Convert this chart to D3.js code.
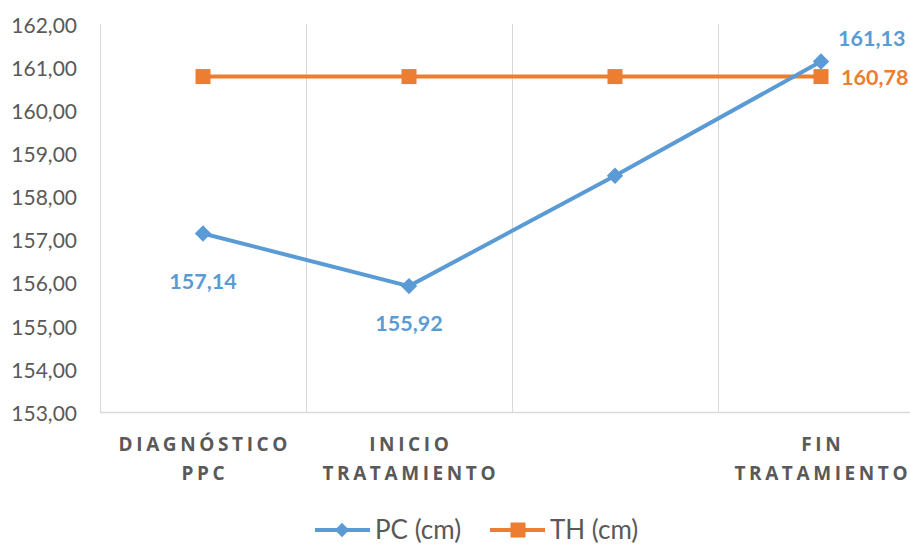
<!DOCTYPE html>
<html>
<head>
<meta charset="utf-8">
<script src="https://cdn.jsdelivr.net/npm/d3@7"></script>
<style>
  html, body { margin: 0; padding: 0; background: #fff; }
  svg { display: block; }
</style>
</head>
<body>
<svg id="chart" width="910" height="546"></svg>
<script>
// Category labels (each entry is a list of lines)
const categories = [
  ["DIAGNÓSTICO", "PPC"],
  ["INICIO", "TRATAMIENTO"],
  [""],
  ["FIN", "TRATAMIENTO"]
];
const categoryKeys = ["c0", "c1", "c2", "c3"];

// Series values
const pcValues = [157.14, 155.92, 158.48, 161.13];
const thValues = [160.78, 160.78, 160.78, 160.78];

// Which points carry a value label
const pcLabelled = [true, true, false, true];
const thLabelled = [false, false, false, true];

const yTicks = [153, 154, 155, 156, 157, 158, 159, 160, 161, 162];

const seriesNames = ["PC (cm)", "TH (cm)"];
const colors = { pc: "#5B9BD5", th: "#ED7D31" };

const fmt = v => d3.format(".2f")(v).replace(".", ",");

const svg = d3.select("#chart");

const x = d3.scaleBand().domain(categoryKeys).range([100, 924]);
const y = d3.scaleLinear().domain([153, 162]).range([412, 24]);
const cx = i => x(categoryKeys[i]) + x.bandwidth() / 2;

// Vertical gridlines at category boundaries
svg.append("g")
  .selectAll("line")
  .data(categoryKeys)
  .join("line")
  .attr("x1", d => x(d) + 0.5)
  .attr("x2", d => x(d) + 0.5)
  .attr("y1", y(162))
  .attr("y2", y(153))
  .attr("stroke", "#d9d9d9")
  .attr("stroke-width", 1);

// Horizontal axis line
svg.append("line")
  .attr("x1", 100).attr("x2", 924)
  .attr("y1", y(153) + 0.5).attr("y2", y(153) + 0.5)
  .attr("stroke", "#d9d9d9").attr("stroke-width", 1.3);

// Y axis tick labels
const yAxis = d3.axisLeft(y).tickValues(yTicks).tickFormat(fmt).tickSize(0).tickPadding(23);
const yg = svg.append("g").attr("transform", "translate(100,1.5)").call(yAxis);
yg.select(".domain").remove();
yg.selectAll("text")
  .attr("font-family", "Lato, 'Noto Sans', sans-serif")
  .attr("font-size", 21)
  .attr("fill", "#595959");

// Category labels
const catSpacing = 3.6;
const catG = svg.append("g");
categories.forEach((lines, i) => {
  const t = catG.append("text")
    .attr("x", cx(i))
    .attr("y", 451)
    .attr("text-anchor", "middle")
    .attr("font-family", "'Open Sans', sans-serif")
    .attr("font-weight", 700)
    .attr("font-size", 19)
    .attr("letter-spacing", catSpacing)
    .attr("fill", "#595959");
  lines.forEach((ln, k) => {
    t.append("tspan").attr("x", cx(i) + catSpacing / 2).attr("dy", k === 0 ? 0 : 29).text(ln);
  });
});

const line = d3.line().x((d, i) => cx(i)).y(d => y(d));

// TH series
svg.append("path")
  .datum(thValues)
  .attr("d", line)
  .attr("fill", "none")
  .attr("stroke", colors.th)
  .attr("stroke-width", 4);
svg.append("g").selectAll("rect")
  .data(thValues)
  .join("rect")
  .attr("x", (d, i) => cx(i) - 7.5)
  .attr("y", d => y(d) - 7.5)
  .attr("width", 15).attr("height", 15)
  .attr("fill", colors.th);

// PC series
svg.append("path")
  .datum(pcValues)
  .attr("d", line)
  .attr("fill", "none")
  .attr("stroke", colors.pc)
  .attr("stroke-width", 4);
const diamond = d3.symbol().type(d3.symbolDiamond2).size(170);
svg.append("g").selectAll("path")
  .data(pcValues)
  .join("path")
  .attr("transform", (d, i) => `translate(${cx(i)},${y(d)})`)
  .attr("d", diamond)
  .attr("fill", colors.pc);

// Value labels (placement relative to each point)
const labelFont = sel => sel
  .attr("font-family", "Lato, 'Noto Sans', sans-serif")
  .attr("font-weight", 700)
  .attr("font-size", 21.5);

const pcLabelPlace = [
  { dx: 0, dy: 55, anchor: "middle" },
  { dx: 0, dy: 45, anchor: "middle" },
  null,
  { dx: 17, dy: -16, anchor: "start" }
];
pcValues.forEach((v, i) => {
  if (!pcLabelled[i]) return;
  const p = pcLabelPlace[i];
  svg.append("text")
    .call(labelFont)
    .attr("fill", colors.pc)
    .attr("x", cx(i) + p.dx)
    .attr("y", y(v) + p.dy)
    .attr("text-anchor", p.anchor)
    .text(fmt(v));
});
thValues.forEach((v, i) => {
  if (!thLabelled[i]) return;
  svg.append("text")
    .call(labelFont)
    .attr("fill", colors.th)
    .attr("x", cx(i) + 20)
    .attr("y", y(v) + 8)
    .text(fmt(v));
});

// Legend
const legend = svg.append("g");
const legendItems = [
  { name: seriesNames[0], color: colors.pc, x: 315, marker: "diamond" },
  { name: seriesNames[1], color: colors.th, x: 490, marker: "square" }
];
const legendDiamond = d3.symbol().type(d3.symbolDiamond2).size(130);
legendItems.forEach(it => {
  const g = legend.append("g").attr("transform", `translate(${it.x},530)`);
  g.append("line").attr("x1", 0).attr("x2", 55).attr("y1", 0).attr("y2", 0)
    .attr("stroke", it.color).attr("stroke-width", 4);
  if (it.marker === "diamond") {
    g.append("path").attr("transform", "translate(27,0)").attr("d", legendDiamond).attr("fill", it.color);
  } else {
    g.append("rect").attr("x", 20.5).attr("y", -7.5).attr("width", 15).attr("height", 15).attr("fill", it.color);
  }
  g.append("text")
    .attr("x", 60).attr("y", 9)
    .attr("font-family", "Lato, 'Noto Sans', sans-serif")
    .attr("font-size", 26)
    .attr("fill", "#595959")
    .text(it.name);
});
</script>
</body>
</html>
